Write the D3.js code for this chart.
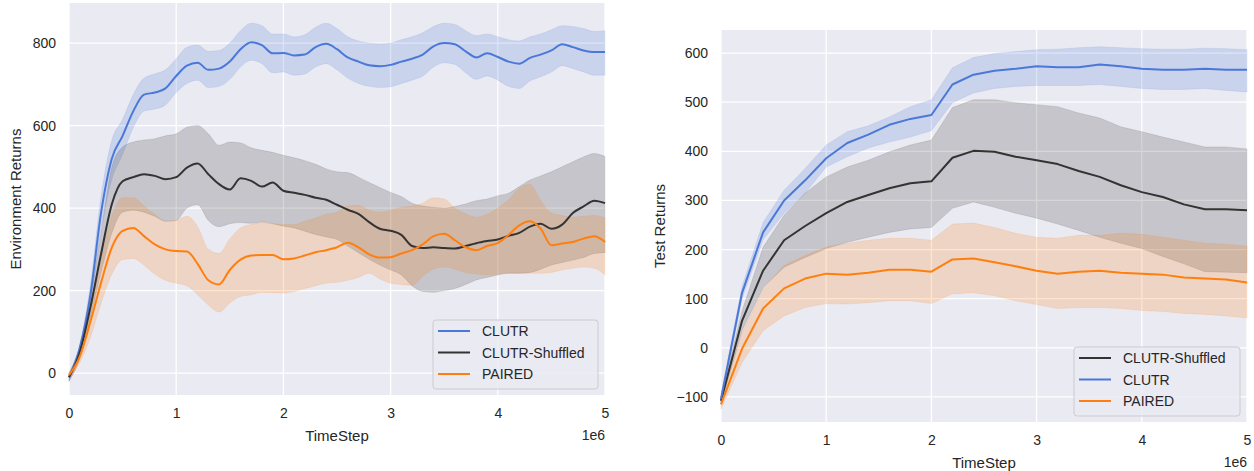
<!DOCTYPE html>
<html lang="en">
<head>
	<meta charset="UTF-8">
	<script src="https://d3js.org/d3.v7.min.js"></script>
	<style>
	body { margin: 0; background: #fff; }
	svg text { font-family: "Liberation Sans", Arial, sans-serif; fill: #262626; }
	</style>
	<title>CLUTR returns</title>
</head>
<body>
<div id="charts"></div>
<script>
// ----- left panel: Environment Returns (sampled every 0.1e6 steps) -----
const leftSteps = d3.range(0, 51).map(i => i / 10);

const leftClutrMean = [-10, 60, 190, 390, 520, 575, 635, 675, 680, 690, 720, 745, 752, 735, 738, 755, 785, 802, 795, 775, 776,
	770, 772, 790, 798, 785, 765, 755, 746, 744, 747, 755, 762, 772, 792, 800, 797, 780, 765, 775, 766,
	755, 750, 764, 772, 782, 797, 790, 782, 778, 778];
const leftClutrLow = [-20, 50, 170, 350, 470, 530, 595, 635, 640, 650, 680, 702, 710, 692, 695, 712, 742, 758, 750, 728, 730,
	722, 725, 742, 750, 735, 715, 702, 695, 692, 694, 702, 710, 720, 742, 752, 748, 728, 712, 720, 710,
	695, 690, 708, 718, 730, 745, 738, 730, 722, 722];
const leftClutrHigh = [0, 70, 215, 430, 565, 615, 675, 715, 725, 735, 762, 790, 795, 780, 782, 800, 830, 848, 842, 822, 822,
	815, 820, 838, 848, 835, 815, 805, 800, 798, 800, 808, 815, 825, 840, 848, 845, 830, 818, 822, 815,
	808, 805, 815, 822, 832, 842, 840, 835, 828, 830];

const leftShuffledMean = [-10, 50, 160, 290, 410, 465, 475, 482, 478, 470, 475, 498, 508, 482, 458, 445, 472, 466, 452, 462, 442,
	437, 432, 425, 420, 408, 396, 386, 366, 350, 345, 335, 308, 303, 305, 303, 302, 308, 315, 320, 324,
	333, 340, 355, 362, 350, 360, 388, 404, 418, 412];
const leftShuffledLow = [-20, 35, 135, 245, 340, 390, 395, 390, 380, 368, 370, 400, 408, 370, 355, 362, 365, 363, 366, 362, 356,
	352, 344, 336, 330, 324, 308, 292, 276, 262, 250, 238, 212, 198, 196, 200, 205, 215, 226, 232, 238,
	242, 242, 244, 252, 262, 268, 274, 280, 290, 292];
const leftShuffledHigh = [0, 65, 185, 340, 500, 548, 560, 565, 568, 575, 580, 596, 600, 580, 552, 560, 558, 546, 540, 535, 528,
	522, 515, 506, 495, 488, 486, 475, 462, 450, 438, 428, 412, 405, 402, 400, 404, 410, 418, 422, 430,
	436, 452, 468, 478, 488, 500, 512, 524, 532, 525];

const leftPairedMean = [-5, 40, 125, 220, 305, 345, 352, 332, 312, 300, 296, 295, 265, 225, 215, 250, 275, 285, 286, 286, 276,
	278, 285, 293, 298, 305, 316, 305, 288, 280, 281, 290, 298, 312, 332, 338, 322, 305, 298, 308, 315,
	335, 358, 368, 350, 310, 314, 318, 326, 332, 318];
const leftPairedLow = [-15, 25, 87, 170, 240, 275, 278, 262, 240, 225, 218, 212, 190, 165, 148, 170, 186, 190, 196, 195, 194,
	198, 205, 212, 218, 220, 225, 232, 242, 228, 218, 215, 213, 235, 252, 257, 252, 244, 240, 238, 240,
	242, 242, 242, 242, 244, 250, 254, 257, 254, 238];
const leftPairedHigh = [0, 55, 155, 275, 380, 425, 425, 405, 385, 368, 370, 380, 355, 300, 290, 325, 352, 360, 365, 362, 360,
	360, 368, 376, 385, 390, 405, 406, 395, 390, 395, 402, 405, 412, 425, 422, 400, 386, 378, 385, 400,
	420, 448, 458, 418, 388, 382, 378, 380, 382, 376];

// ----- right panel: Test Returns (evaluated every 0.2e6 steps) -----
const rightSteps = d3.range(0, 26).map(i => i / 5);

const rightShuffledMean = [-108, 55, 157, 219, 248, 274, 297, 311, 325, 335, 339, 387, 401, 399, 389, 382, 374, 360, 348, 331, 317, 307, 292, 282, 282, 280];
const rightShuffledLow = [-115, 35, 123, 164, 184, 202, 215, 225, 235, 242, 245, 284, 297, 286, 274, 264, 252, 239, 225, 213, 202, 186, 171, 155, 154, 153];
const rightShuffledHigh = [-100, 75, 205, 270, 315, 348, 368, 382, 399, 413, 423, 489, 505, 505, 499, 495, 491, 478, 468, 450, 440, 429, 419, 409, 409, 405];

const rightClutrMean = [-104, 112, 235, 300, 341, 386, 417, 434, 454, 466, 474, 536, 556, 564, 568, 573, 571, 571, 577, 573, 568, 566, 566, 568, 566, 566];
const rightClutrLow = [-112, 100, 220, 274, 315, 368, 389, 407, 419, 429, 442, 499, 519, 528, 532, 534, 534, 534, 536, 532, 528, 526, 526, 528, 524, 521];
const rightClutrHigh = [-95, 125, 255, 321, 365, 413, 440, 452, 470, 491, 505, 570, 591, 599, 603, 607, 608, 611, 613, 611, 609, 608, 608, 610, 609, 607];

const rightPairedMean = [-115, -2, 80, 121, 141, 151, 149, 153, 159, 159, 155, 180, 182, 174, 166, 157, 151, 155, 157, 153, 151, 149, 143, 141, 139, 133];
const rightPairedLow = [-125, -30, 35, 65, 82, 90, 89, 92, 96, 96, 90, 110, 112, 106, 96, 88, 80, 82, 82, 80, 76, 74, 70, 68, 65, 61];
const rightPairedHigh = [-105, 30, 120, 168, 188, 205, 213, 219, 223, 223, 219, 252, 254, 245, 233, 225, 223, 229, 229, 233, 231, 225, 219, 213, 211, 207];

const xTicks = [0, 1, 2, 3, 4, 5];
const leftYTicks = [0, 200, 400, 600, 800];
const rightYTicks = [-100, 0, 100, 200, 300, 400, 500, 600];

const colors = {
	"CLUTR": "#4a78d8",
	"CLUTR-Shuffled": "#333333",
	"PAIRED": "#ff7f0e"
};

const svg = d3.select("#charts")
	.append("svg")
	.attr("width", 1254)
	.attr("height", 471);

function drawPanel(cfg) {
	const x = d3.scaleLinear().domain([0, 5]).range([cfg.left, cfg.right]);
	const y = d3.scaleLinear().domain(cfg.yDomain).range([cfg.bottom, cfg.top]);
	const g = svg.append("g");

	// background
	g.append("rect")
		.attr("x", cfg.left).attr("y", cfg.top)
		.attr("width", cfg.right - cfg.left)
		.attr("height", cfg.bottom - cfg.top)
		.attr("fill", "#eaeaf2");

	// grid
	g.append("g").selectAll("line")
		.data(xTicks)
		.join("line")
		.attr("x1", d => x(d)).attr("x2", d => x(d))
		.attr("y1", cfg.top).attr("y2", cfg.bottom)
		.attr("stroke", "#fff").attr("stroke-width", 1.3);
	g.append("g").selectAll("line")
		.data(cfg.yTicks)
		.join("line")
		.attr("x1", cfg.left).attr("x2", cfg.right)
		.attr("y1", d => y(d)).attr("y2", d => y(d))
		.attr("stroke", "#fff").attr("stroke-width", 1.3);

	// axes (no domain lines, seaborn darkgrid style)
	const xAxis = g.append("g")
		.attr("transform", "translate(0," + cfg.bottom + ")")
		.call(d3.axisBottom(x).tickValues(xTicks).tickSize(0).tickPadding(13).tickFormat(d3.format("d")));
	const yAxis = g.append("g")
		.attr("transform", "translate(" + cfg.left + ",0)")
		.call(d3.axisLeft(y).tickValues(cfg.yTicks).tickSize(0).tickPadding(13).tickFormat(d => d < 0 ? "\u2212" + Math.abs(d) : d));
	[xAxis, yAxis].forEach(a => {
		a.select(".domain").remove();
		a.selectAll("text").attr("font-size", 14).attr("fill", "#262626")
			.style("font-family", "Liberation Sans, Arial, sans-serif");
	});

	// bands then lines
	cfg.series.forEach(s => {
		const pts = cfg.steps.map((t, i) => ({ t: t, m: s.mean[i], lo: s.low[i], hi: s.high[i] }));
		g.append("path")
			.datum(pts)
			.attr("d", d3.area().curve(cfg.curve).x(d => x(d.t)).y0(d => y(d.lo)).y1(d => y(d.hi)))
			.attr("fill", colors[s.name])
			.attr("fill-opacity", 0.2)
			.attr("stroke", colors[s.name])
			.attr("stroke-opacity", 0.12)
			.attr("stroke-width", 1);
	});
	cfg.series.forEach(s => {
		const pts = cfg.steps.map((t, i) => ({ t: t, m: s.mean[i] }));
		g.append("path")
			.datum(pts)
			.attr("d", d3.line().curve(cfg.curve).x(d => x(d.t)).y(d => y(d.m)))
			.attr("fill", "none")
			.attr("stroke", colors[s.name])
			.attr("stroke-width", 2)
			.attr("stroke-linejoin", "round");
	});

	// axis labels
	g.append("text")
		.attr("x", (cfg.left + cfg.right) / 2)
		.attr("y", cfg.bottom + 46)
		.attr("text-anchor", "middle")
		.attr("font-size", 15)
		.text("TimeStep");
	g.append("text")
		.attr("x", cfg.right)
		.attr("y", cfg.bottom + 45)
		.attr("text-anchor", "end")
		.attr("font-size", 14)
		.text("1e6");
	g.append("text")
		.attr("transform", "translate(" + cfg.yLabelX + "," + ((cfg.top + cfg.bottom) / 2) + ") rotate(-90)")
		.attr("text-anchor", "middle")
		.attr("font-size", 15)
		.text(cfg.yLabel);

	// legend
	const lg = g.append("g").attr("transform", "translate(" + cfg.legend.x + "," + cfg.legend.y + ")");
	lg.append("rect")
		.attr("width", cfg.legend.w).attr("height", 69)
		.attr("rx", 3)
		.attr("fill", "#eaeaf2").attr("fill-opacity", 0.8)
		.attr("stroke", "#cccccc");
	cfg.legend.order.forEach((name, i) => {
		const cy = 11 + i * 21.5;
		lg.append("line")
			.attr("x1", 5).attr("x2", 37)
			.attr("y1", cy).attr("y2", cy)
			.attr("stroke", colors[name]).attr("stroke-width", 2);
		lg.append("text")
			.attr("x", 49).attr("y", cy + 5)
			.attr("font-size", 14)
			.text(name);
	});
}

drawPanel({
	left: 69, right: 605, top: 3, bottom: 395,
	yDomain: [-53, 897],
	yTicks: leftYTicks,
	yLabel: "Environment Returns",
	yLabelX: 21,
	steps: leftSteps,
	curve: d3.curveMonotoneX,
	series: [
		{ name: "CLUTR", mean: leftClutrMean, low: leftClutrLow, high: leftClutrHigh },
		{ name: "CLUTR-Shuffled", mean: leftShuffledMean, low: leftShuffledLow, high: leftShuffledHigh },
		{ name: "PAIRED", mean: leftPairedMean, low: leftPairedLow, high: leftPairedHigh }
	],
	legend: { x: 433, y: 320, w: 165, order: ["CLUTR", "CLUTR-Shuffled", "PAIRED"] }
});

drawPanel({
	left: 721, right: 1247, top: 30, bottom: 422,
	yDomain: [-151, 647],
	yTicks: rightYTicks,
	yLabel: "Test Returns",
	yLabelX: 665,
	steps: rightSteps,
	curve: d3.curveLinear,
	series: [
		{ name: "CLUTR-Shuffled", mean: rightShuffledMean, low: rightShuffledLow, high: rightShuffledHigh },
		{ name: "CLUTR", mean: rightClutrMean, low: rightClutrLow, high: rightClutrHigh },
		{ name: "PAIRED", mean: rightPairedMean, low: rightPairedLow, high: rightPairedHigh }
	],
	legend: { x: 1074, y: 347, w: 166, order: ["CLUTR-Shuffled", "CLUTR", "PAIRED"] }
});
</script>
</body>
</html>
